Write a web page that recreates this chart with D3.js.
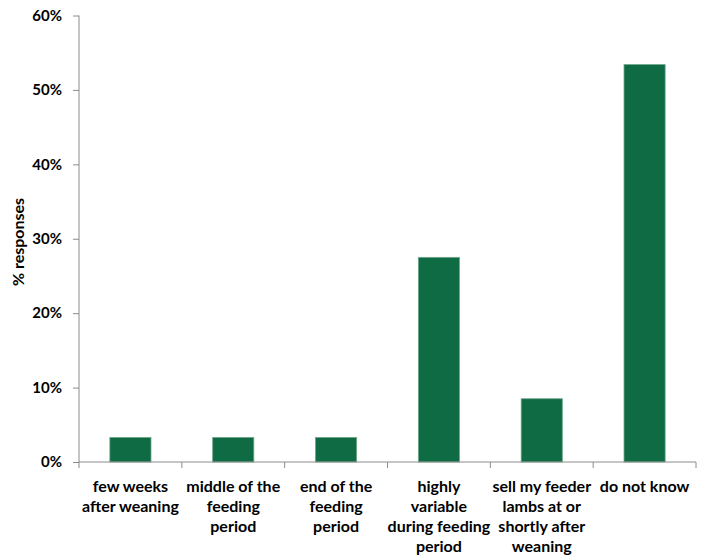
<!DOCTYPE html>
<html><head><meta charset="utf-8">
<script src="https://cdn.jsdelivr.net/npm/d3@7"></script>
<style>body{margin:0;background:#fff}text{font-family:Lato,"Open Sans",sans-serif;font-weight:bold;fill:#000}</style>
</head><body><svg id="c" width="706" height="557"></svg>
<script>
const categories = [
  ["few weeks","after weaning"],
  ["middle of the","feeding","period"],
  ["end of the","feeding","period"],
  ["highly","variable","during feeding","period"],
  ["sell my feeder","lambs at or","shortly after","weaning"],
  ["do not know"]
];
const values = [0.033, 0.033, 0.033, 0.275, 0.085, 0.534];
const yTicks = [0, 0.1, 0.2, 0.3, 0.4, 0.5, 0.6];

const svg = d3.select("#c");
const pLeft = 79, pRight = 696, pTop = 15.5, pBottom = 462;
const x = d3.scaleBand().domain(d3.range(categories.length)).range([pLeft, pRight]).paddingInner(0.6).paddingOuter(0.3);
const y = d3.scaleLinear().domain([0, 0.6]).range([pBottom, pTop]);
const grey = "#8c8c8c";

// bars
svg.append("g").selectAll("rect").data(values).join("rect")
  .attr("x", (d,i) => x(i)).attr("width", x.bandwidth())
  .attr("y", d => y(d)).attr("height", d => y(0) - y(d))
  .attr("fill", "#0e6b43").attr("stroke", "#6fa68b").attr("stroke-width", 0.8);

// y axis
const ya = svg.append("g").attr("transform", `translate(${pLeft},0)`)
  .call(d3.axisLeft(y).tickValues(yTicks).tickFormat(d3.format(".0%")).tickSize(6).tickPadding(11));
ya.selectAll("path,line").attr("stroke", grey);
ya.select(".domain").attr("d", `M0,${pTop}V${pBottom}`);
ya.selectAll("text").attr("font-size", 15).style("font-family", "Lato").style("font-weight", "bold");

// x axis
const step = (pRight - pLeft) / categories.length;
const xa = svg.append("g");
xa.append("line").attr("x1", pLeft).attr("x2", pRight).attr("y1", pBottom).attr("y2", pBottom).attr("stroke", grey);
xa.selectAll("line.t").data(d3.range(categories.length + 1)).join("line").attr("class","t")
  .attr("x1", i => pLeft + i*step).attr("x2", i => pLeft + i*step)
  .attr("y1", pBottom).attr("y2", pBottom + 6).attr("stroke", grey);

xa.selectAll("text.lab").data(categories).join("text").attr("class","lab")
  .attr("text-anchor", "middle").attr("font-size", 16)
  .attr("transform", (d,i) => `translate(${x(i) + x.bandwidth()/2},491.5)`)
  .selectAll("tspan").data(d => d).join("tspan")
  .attr("x", 0).attr("y", (d,j) => j*20.3).text(d => d);

// y label
svg.append("text").attr("transform", "translate(24,242) rotate(-90)")
  .attr("text-anchor", "middle").attr("font-size", 16).text("% responses");
</script></body></html>
